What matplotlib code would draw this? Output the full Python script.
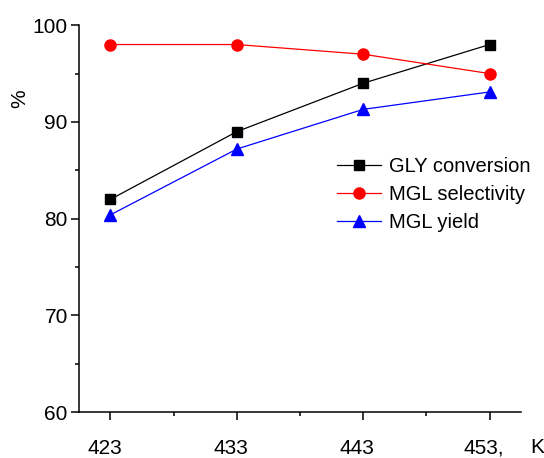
import numpy as np
import matplotlib.pyplot as plt
import matplotlib.transforms as mtransforms

plt.rcParams['font.family'] = ['Liberation Sans', 'DejaVu Sans']

# temperatures (K)
temps = [423, 433, 443, 453]
temp_labels = ['423', '433', '443', '453,']

# percentages
gly_conversion = [82.0, 89.0, 94.0, 98.0]
mgl_selectivity = [98.0, 98.0, 97.0, 95.0]
mgl_yield = [80.4, 87.2, 91.3, 93.1]

fig = plt.figure(figsize=(5.44, 4.58), dpi=100)
ax = fig.add_axes([0.145, 0.1, 0.813, 0.845])

ax.plot(temps, gly_conversion, color='black', lw=0.9, marker='s', ms=7,
        label='GLY conversion')
ax.plot(temps, mgl_selectivity, color='red', lw=0.9, marker='o', ms=8,
        label='MGL selectivity')
ax.plot(temps, mgl_yield, color='blue', lw=0.9, marker='^', ms=8.5,
        label='MGL yield')

ax.set_xlim(420.5, 455.5)
ax.set_ylim(60, 100)
ax.set_xticks(temps)
ax.set_xticklabels(temp_labels)
ax.set_xticks([428, 438, 448], minor=True)
ax.set_yticks([60, 70, 80, 90, 100])
ax.set_yticks([65, 75, 85, 95], minor=True)

for s in ['top', 'right']:
    ax.spines[s].set_visible(False)
for s in ['left', 'bottom']:
    ax.spines[s].set_linewidth(1.1)

ax.tick_params(axis='both', which='major', direction='out', length=6, width=1.1,
               labelsize=15)
ax.tick_params(axis='both', which='minor', direction='out', length=3, width=1.1)
ax.tick_params(axis='x', which='major', pad=13)
ax.tick_params(axis='y', which='major', pad=2)

# labels sit a bit left of their ticks
offset = mtransforms.ScaledTranslation(-6 / 100, 0, fig.dpi_scale_trans)
for lbl in ax.get_xticklabels():
    lbl.set_transform(lbl.get_transform() + offset)

ax.set_ylabel('%', fontsize=15)
ax.yaxis.set_label_coords(-0.112, 0.81)
k_shift = mtransforms.ScaledTranslation(0, -26 / 100, fig.dpi_scale_trans)
ax.text(1.036, 0.0, 'K', transform=ax.transAxes + k_shift, fontsize=15,
        ha='center', va='top')

ax.legend(loc='upper left', bbox_to_anchor=(0.584, 0.66), frameon=False,
          fontsize=14.5, handlelength=2.2, handletextpad=0.35, labelspacing=0.45,
          borderpad=0, borderaxespad=0)

fig.savefig('out.png', dpi=100)
